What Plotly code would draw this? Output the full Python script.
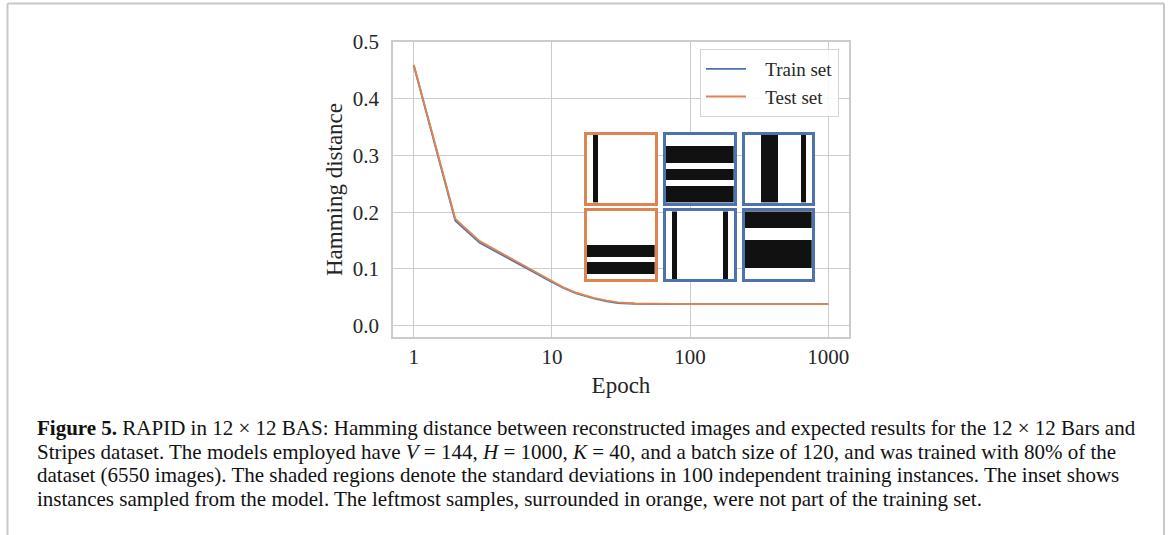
import plotly.graph_objects as go

# ---------------- data ----------------
epochs = [1, 2, 3, 4, 5, 6, 7, 8, 9, 10, 12, 15, 20, 25, 30, 40, 50, 70, 100, 200, 500, 1000]
train_hamming = [0.459, 0.185, 0.146, 0.130, 0.117, 0.107, 0.098, 0.090, 0.083, 0.077, 0.067,
                 0.057, 0.048, 0.043, 0.040, 0.0385, 0.038, 0.038, 0.038, 0.038, 0.038, 0.038]
test_hamming = [0.460, 0.188, 0.149, 0.132, 0.119, 0.109, 0.100, 0.092, 0.085, 0.078, 0.068,
                0.058, 0.049, 0.044, 0.041, 0.039, 0.0385, 0.038, 0.038, 0.038, 0.038, 0.038]

x_tick_vals = [1, 10, 100, 1000]
x_tick_text = ["1", "10", "100", "1000"]
y_tick_vals = [0.0, 0.1, 0.2, 0.3, 0.4, 0.5]
y_tick_text = ["0.0", "0.1", "0.2", "0.3", "0.4", "0.5"]

# inset samples (12x12 Bars and Stripes): orientation, black line indices, set
sample_kinds = ["cols", "rows", "cols", "rows", "cols", "rows"]
sample_black = [[1], [2, 3, 4, 6, 7, 9, 10, 11], [3, 4, 5, 10],
                [6, 7, 9, 10], [1, 10], [0, 1, 2, 5, 6, 7, 8, 9]]
sample_set = ["test", "train", "train", "test", "train", "train"]

caption_lines = [
    "<b>Figure 5.</b> RAPID in 12 × 12 BAS: Hamming distance between reconstructed images and expected results for the 12 × 12 Bars and",
    "Stripes dataset. The models employed have <i>V</i> = 144, <i>H</i> = 1000, <i>K</i> = 40, and a batch size of 120, and was trained with 80% of the",
    "dataset (6550 images). The shaded regions denote the standard deviations in 100 independent training instances. The inset shows",
    "instances sampled from the model. The leftmost samples, surrounded in orange, were not part of the training set.",
]

# ---------------- layout helpers ----------------
W, H = 1170, 535
PL, PR, PT, PB = 393, 849, 42, 337  # plot area in px


def px_x(px):
    return (px - PL) / (PR - PL)


def px_y(py):
    return (PB - py) / (PB - PT)


BLUE = "#4C72B0"
ORANGE = "#DD8452"
GRID = "#cccccc"
TXT = "#262626"
SERIF = "Liberation Serif"
NB = "\u00a0\u00a0\u00a0"

fig = go.Figure()
fig.add_trace(go.Scatter(x=epochs, y=train_hamming, mode="lines", name=NB + "Train set",
                         line=dict(color=BLUE, width=1.9)))
fig.add_trace(go.Scatter(x=epochs, y=test_hamming, mode="lines", name=NB + "Test set",
                         line=dict(color=ORANGE, width=1.9)))

# inset heatmaps
col_px = [(587, 654.7), (666, 733.7), (744.7, 812)]
row_px = [(134.5, 202.7), (211.3, 279)]
layout_axes = {}
for i in range(6):
    r, c = i // 3, i % 3
    kind, black = sample_kinds[i], sample_black[i]
    z = [[(1 if ((kind == "cols" and cc in black) or (kind == "rows" and rr in black)) else 0)
          for cc in range(12)] for rr in range(12)]
    n = i + 2
    fig.add_trace(go.Heatmap(z=z, xaxis=f"x{n}", yaxis=f"y{n}", zmin=0, zmax=1,
                             colorscale=[[0, "#ffffff"], [1, "#111111"]], showscale=False,
                             hoverinfo="skip"))
    bc = ORANGE if sample_set[i] == "test" else BLUE
    x0, x1 = col_px[c]
    y0, y1 = row_px[r]
    ax = dict(showgrid=False, zeroline=False, showticklabels=False, ticks="",
              showline=True, mirror=True, linecolor=bc, linewidth=2.6, fixedrange=True)
    layout_axes[f"xaxis{n}"] = dict(ax, domain=[px_x(x0), px_x(x1)], range=[-0.5, 11.5],
                                    anchor=f"y{n}")
    layout_axes[f"yaxis{n}"] = dict(ax, domain=[px_y(y1), px_y(y0)], range=[11.5, -0.5],
                                    anchor=f"x{n}")

fig.update_layout(
    width=W, height=H,
    margin=dict(l=PL, r=W - PR, t=PT, b=H - PB),
    paper_bgcolor="white", plot_bgcolor="white",
    font=dict(family=SERIF, color=TXT),
    showlegend=True,
    legend=dict(x=px_x(839), y=px_y(49), xanchor="right", yanchor="top",
                bgcolor="rgba(255,255,255,0.85)", bordercolor="#d5d5d5", borderwidth=1,
                font=dict(family=SERIF, size=19, color=TXT), itemwidth=40),
    xaxis=dict(type="log", range=[-0.15, 3.15], tickvals=x_tick_vals, ticktext=x_tick_text,
               showgrid=True, gridcolor=GRID, gridwidth=1.3, zeroline=False,
               showline=True, mirror=True, linecolor=GRID, linewidth=1.7,
               ticks="", tickfont=dict(size=21, family=SERIF, color=TXT),
               ticklabelstandoff=0,
               title=dict(text="Epoch", font=dict(size=23, family=SERIF, color=TXT), standoff=9)),
    yaxis=dict(range=[-0.02, 0.5], tickvals=y_tick_vals, ticktext=y_tick_text,
               showgrid=True, gridcolor=GRID, gridwidth=1.3, zeroline=False,
               showline=True, mirror=True, linecolor=GRID, linewidth=1.7,
               ticks="", tickfont=dict(size=21, family=SERIF, color=TXT),
               ticklabelstandoff=8,
               title=dict(text="Hamming distance", font=dict(size=23, family=SERIF, color=TXT),
                          standoff=4)),
    **layout_axes,
)

# caption
cap_y = [428, 451.5, 475, 498.5]
for txt, yy in zip(caption_lines, cap_y):
    fig.add_annotation(text=txt, xref="paper", yref="paper", x=px_x(35), y=px_y(yy),
                       xanchor="left", yanchor="middle", showarrow=False,
                       font=dict(family=SERIF, size=21, color="#111111"))

# page frame
frame = "#c8c8c8"
fig.add_shape(type="line", xref="paper", yref="paper", x0=px_x(7.5), x1=px_x(1164),
              y0=px_y(3.5), y1=px_y(3.5), line=dict(color=frame, width=2))
fig.add_shape(type="line", xref="paper", yref="paper", x0=px_x(7.5), x1=px_x(7.5),
              y0=px_y(3.5), y1=px_y(540), line=dict(color=frame, width=2))
fig.add_shape(type="line", xref="paper", yref="paper", x0=px_x(1164), x1=px_x(1164),
              y0=px_y(3.5), y1=px_y(540), line=dict(color=frame, width=2))

fig.write_html("out.html", config={"displayModeBar": False},
               post_script="document.body.style.margin='0';")
